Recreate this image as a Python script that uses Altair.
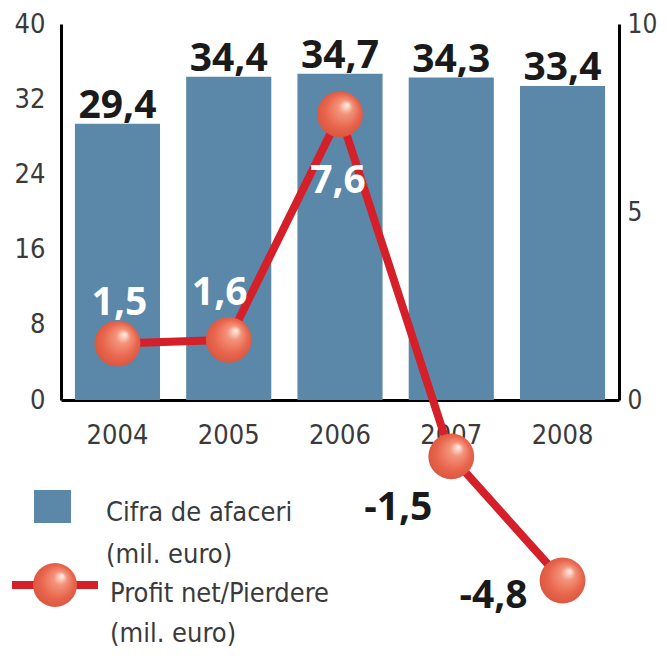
import altair as alt
import pandas as pd

years = ["2004", "2005", "2006", "2007", "2008"]
revenue = [29.4, 34.4, 34.7, 34.3, 33.4]
profit = [1.5, 1.6, 7.6, -1.5, -4.8]
left_ticks = [0, 8, 16, 24, 32, 40]
right_ticks = [0, 5, 10]
legend_bar_label = "Cifra de afaceri\n(mil. euro)"
legend_line_label = "Profit net/Pierdere\n(mil. euro)"


def fmt(v):
    return f"{v:.1f}".replace(".", ",")


df = pd.DataFrame({
    "year": years,
    "revenue": revenue,
    "profit": profit,
    "rev_label": [fmt(v) for v in revenue],
    "profit_label": [fmt(v) for v in profit],
})

BLUE = "#5b87a9"
RED = "#d51f29"
AXIS_FONT = "'DejaVu Sans Condensed', 'Liberation Sans Narrow', Roboto, sans-serif"
BOLD_FONT = "Open Sans"

ball = {
    "gradient": "radial",
    "x1": 0.66, "y1": 0.3, "r1": 0.02,
    "x2": 0.5, "y2": 0.5, "r2": 0.56,
    "stops": [
        {"offset": 0.0, "color": "#fde6dc"},
        {"offset": 0.25, "color": "#f3937a"},
        {"offset": 0.65, "color": "#e8664d"},
        {"offset": 1.0, "color": "#d9523c"},
    ],
}

x_enc = alt.X(
    "year:N",
    scale=alt.Scale(paddingInner=0.235, paddingOuter=0.125),
    axis=alt.Axis(
        title=None, labelAngle=0, ticks=False, domainColor="black", domainWidth=3,
        labelFont=AXIS_FONT, labelFontSize=27, labelColor="#3a3a3a", labelPadding=22,
    ),
)

y_left = alt.Y(
    "revenue:Q",
    scale=alt.Scale(domain=[0, 40], nice=False),
    axis=alt.Axis(
        values=left_ticks, title=None, grid=False, ticks=False,
        domainColor="black", domainWidth=3,
        labelFont=AXIS_FONT, labelFontSize=27, labelColor="#3a3a3a", labelPadding=16,
    ),
)

y_right = alt.Y(
    "profit:Q",
    scale=alt.Scale(domain=[0, 10], nice=False),
    axis=alt.Axis(
        values=right_ticks, title=None, grid=False, ticks=False, orient="right",
        domainColor="black", domainWidth=3,
        labelFont=AXIS_FONT, labelFontSize=26, labelColor="#3a3a3a", labelPadding=8,
    ),
)

base = alt.Chart(df)

bars = base.mark_bar(color=BLUE).encode(x=x_enc, y=y_left)
bar_labels = base.mark_text(
    font=BOLD_FONT, fontWeight="bold", fontSize=39, color="#1a1a1a",
    baseline="alphabetic", dy=-6,
).encode(x=x_enc, y=y_left, text="rev_label:N")

left_layer = alt.layer(bars, bar_labels)

line = base.mark_line(color=RED, strokeWidth=8).encode(x=x_enc, y=y_right)
points = base.mark_point(
    shape="circle", filled=True, size=2100, fill=ball, opacity=1
).encode(x=x_enc, y=y_right)


def plabel(i, dx, dy, color):
    return base.transform_filter(alt.datum.year == years[i]).mark_text(
        font=BOLD_FONT, fontWeight="bold", fontSize=39, color=color,
        baseline="alphabetic", dx=dx, dy=dy,
    ).encode(x=x_enc, y=y_right, text="profit_label:N")


right_layer = alt.layer(
    line, points,
    plabel(0, 2, -29, "white"),
    plabel(1, -9, -35, "white"),
    plabel(2, -2, 79, "white"),
    plabel(3, -53, 64, "#1a1a1a"),
    plabel(4, -69, 28, "#1a1a1a"),
)

one = pd.DataFrame({"a": [0]})
leg_square = alt.Chart(one).mark_rect(color=BLUE).encode(
    x=alt.value(-27), x2=alt.value(10), y=alt.value(466), y2=alt.value(499)
)
leg_text1 = alt.Chart(one).mark_text(
    font=AXIS_FONT, fontSize=27, color="#3a3a3a", align="left",
    baseline="alphabetic", lineBreak="\n", lineHeight=42, text=legend_bar_label,
).encode(x=alt.value(45), y=alt.value(497))
leg_line = alt.Chart(one).mark_rule(color=RED, strokeWidth=8).encode(
    x=alt.value(-49), x2=alt.value(37), y=alt.value(561)
)
leg_ball = alt.Chart(one).mark_point(
    shape="circle", filled=True, size=1936, fill=ball, opacity=1
).encode(x=alt.value(-6), y=alt.value(561))
leg_text2 = alt.Chart(one).mark_text(
    font=AXIS_FONT, fontSize=27, color="#3a3a3a", align="left",
    baseline="alphabetic", lineBreak="\n", lineHeight=40, text=legend_line_label,
).encode(x=alt.value(49), y=alt.value(578))

chart = alt.layer(
    left_layer, right_layer, leg_square, leg_text1, leg_line, leg_ball, leg_text2
).resolve_scale(y="independent").properties(
    width=558, height=376,
    padding={"left": 53, "top": 16, "right": 40, "bottom": 249},
    autosize=alt.AutoSizeParams(type="none"),
).configure_view(stroke=None)

chart.save("out.html", embed_options={"renderer": "svg", "actions": False})
